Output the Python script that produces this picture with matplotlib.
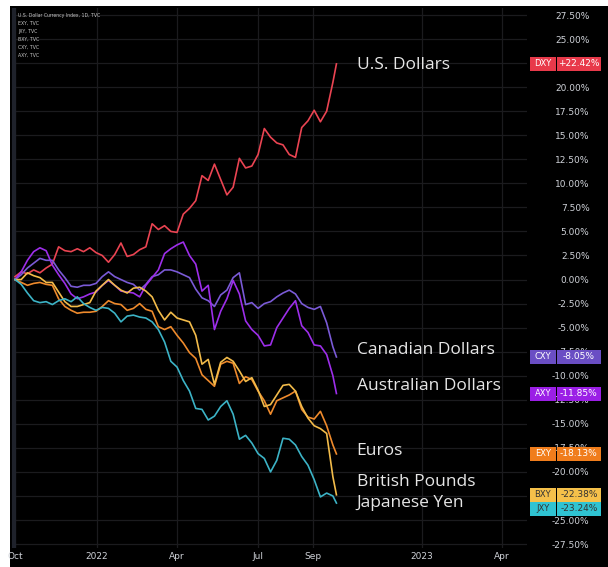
import matplotlib.pyplot as plt
import matplotlib.dates as mdates
from matplotlib.patches import Rectangle
from matplotlib.transforms import blended_transform_factory
import pandas as pd

# weekly closes (% change since Oct 1 2021), last point = Sep 27 2022
dates = list(pd.date_range("2021-10-01", periods=52, freq="7D")) + [pd.Timestamp("2022-09-27")]

dxy = [0.3, 0.8, 0.6, 1.0, 0.7, 1.2, 1.6, 3.4, 3.0, 2.9, 3.2, 2.9, 3.3, 2.8, 2.5, 1.8,
       2.6, 3.8, 2.4, 2.6, 3.1, 3.4, 5.8, 5.2, 5.6, 5.0, 4.9, 6.8, 7.4, 8.2, 10.8, 10.3,
       12.0, 10.4, 8.8, 9.6, 12.6, 11.6, 11.8, 13.0, 15.7, 14.8, 14.2, 14.0, 13.0, 12.7,
       15.8, 16.5, 17.6, 16.4, 17.5, 20.5, 22.42]
cxy = [0.0, 0.5, 1.2, 1.7, 2.2, 2.0, 2.0, 1.0, 0.2, -0.7, -0.8, -0.6, -0.6, -0.4, 0.3, 0.8,
       0.3, 0.0, -0.3, -0.5, -1.1, -0.5, 0.3, 0.5, 1.0, 1.0, 0.8, 0.5, 0.2, -1.0, -1.9, -2.2,
       -2.8, -1.6, -1.1, 0.2, 0.7, -2.6, -2.4, -3.0, -2.5, -2.3, -1.8, -1.4, -1.1, -1.5,
       -2.5, -2.9, -3.1, -2.8, -4.5, -7.0, -8.05]
axy = [0.0, 0.8, 2.0, 2.9, 3.3, 3.0, 1.5, 0.5, -0.4, -1.5, -2.0, -1.8, -1.5, -1.3, -0.6, -0.1,
       -0.6, -1.2, -1.3, -1.4, -1.8, -0.6, 0.2, 1.0, 2.7, 3.2, 3.6, 3.9, 2.5, 1.6, -1.2, -0.6,
       -5.2, -3.3, -2.0, -0.1, -1.5, -4.3, -5.2, -5.8, -6.9, -6.8, -5.0, -4.0, -3.0, -2.2,
       -4.8, -5.5, -6.8, -6.9, -7.8, -10.0, -11.85]
exy = [0.0, -0.3, -0.6, -0.4, -0.3, -0.5, -0.6, -2.0, -2.8, -3.2, -3.5, -3.4, -3.4, -3.3, -2.8, -2.2,
       -2.5, -2.6, -3.2, -3.0, -2.5, -3.1, -3.3, -4.9, -5.2, -4.9, -5.8, -6.6, -7.6, -8.2, -9.9, -10.5,
       -11.1, -8.8, -8.5, -8.7, -10.8, -10.1, -10.4, -11.6, -12.6, -14.0, -12.6, -12.3, -12.0, -11.6,
       -13.5, -14.3, -14.5, -13.7, -15.2, -17.2, -18.13]
bxy = [0.0, 0.0, 0.7, 0.4, 0.2, -0.3, -0.3, -1.3, -2.3, -2.8, -2.8, -2.6, -2.4, -1.2, -0.6, 0.0,
       -0.6, -1.1, -1.4, -0.9, -0.8, -1.2, -1.8, -3.2, -4.2, -3.4, -4.0, -4.2, -4.4, -5.8, -8.8, -8.3,
       -10.9, -8.6, -8.1, -8.5, -9.5, -10.6, -10.2, -11.5, -13.2, -13.0, -12.0, -11.0, -10.9, -11.6,
       -13.2, -14.4, -15.2, -15.5, -16.0, -20.5, -22.38]
jxy = [0.0, -0.5, -1.4, -2.2, -2.4, -2.3, -2.6, -2.2, -2.0, -2.3, -1.8, -2.5, -2.9, -3.2, -2.9, -3.0,
       -3.5, -4.4, -3.8, -3.7, -3.9, -4.0, -4.4, -5.2, -6.5, -8.5, -9.1, -10.5, -11.6, -13.4, -13.5, -14.6,
       -14.2, -13.2, -12.6, -14.0, -16.6, -16.2, -17.0, -18.1, -18.6, -20.0, -18.8, -16.5, -16.6, -17.2,
       -18.4, -19.3, -20.8, -22.6, -22.2, -22.5, -23.24]

series = [
    ("DXY", dxy, "#ea4452", "#e8394a", "#ffffff", "U.S. Dollars"),
    ("CXY", cxy, "#7a5ad6", "#6a4ec4", "#ffffff", "Canadian Dollars"),
    ("AXY", axy, "#9d2eea", "#9b1fe6", "#ffffff", "Australian Dollars"),
    ("EXY", exy, "#ee8a2c", "#f07d1c", "#ffffff", "Euros"),
    ("BXY", bxy, "#f2bb4a", "#f5c04a", "#333333", "British Pounds"),
    ("JXY", jxy, "#3cb3c6", "#2fc3d2", "#333333", "Japanese Yen"),
]
# label / tag vertical positions (in %), nudged where tags would collide
label_y = [22.3, -7.3, -11.05, -17.8, -21.05, -23.2]
tag_y = [22.42, -8.05, -11.85, -18.13, -22.38, -23.85]

yticks = [27.5 - 2.5 * i for i in range(23)]
# price-scale labels hidden behind the value tags
hidden_ticks = [22.5, -22.5]
xtick_dates = ["2021-10-01", "2022-01-01", "2022-04-01", "2022-07-01", "2022-09-01", "2023-01-01", "2023-04-01"]
xtick_labels = ["Oct", "2022", "Apr", "Jul", "Sep", "2023", "Apr"]
legend_lines = ["U.S. Dollar Currency Index, 1D, TVC", "EXY, TVC", "JXY, TVC", "BXY, TVC", "CXY, TVC", "AXY, TVC"]

W, H = 608, 567
fig = plt.figure(figsize=(W / 100, H / 100), dpi=100, facecolor="white")
fig.patches.append(Rectangle((10 / W, 0), 1 - 10 / W, 1 - 6 / H, transform=fig.transFigure,
                             facecolor="black", edgecolor="none", zorder=-10))

ax = fig.add_axes([14 / W, 1 - 548 / H, (527 - 14) / W, (548 - 8) / H], facecolor="black")
ax.set_ylim(-27.91, 28.23)
x0 = mdates.date2num(pd.Timestamp("2021-10-01"))
ax.set_xlim(x0 - 1.1, x0 + 575)

for s in ["top", "right", "bottom"]:
    ax.spines[s].set_visible(False)
ax.spines["left"].set_color("#1f222b")
ax.spines["left"].set_linewidth(3)
ax.spines["left"].set_capstyle("butt")

ax.set_yticks(yticks)
ax.set_yticklabels(["" if v in hidden_ticks else f"{v:.2f}%" for v in yticks])
ax.yaxis.tick_right()
ax.tick_params(axis="y", length=0, pad=45, labelsize=6.5, labelcolor="#cfd2d8")
for lab in ax.get_yticklabels():
    lab.set_horizontalalignment("right")

ax.set_xticks([mdates.date2num(pd.Timestamp(d)) for d in xtick_dates])
ax.set_xticklabels(xtick_labels)
ax.tick_params(axis="x", length=0, pad=3, labelsize=6.5, labelcolor="#cfd2d8")

ax.grid(True, color="#1b1b1e", linewidth=0.9)
ax.set_axisbelow(True)

trans = blended_transform_factory(ax.transAxes, ax.transData)
box_h = 14 / 9.62
for (name, vals, lc, tc, txtc, label), ly, ty in zip(series, label_y, tag_y):
    ax.plot(dates, vals, color=lc, linewidth=1.2, zorder=3)
    ax.text(0.668, ly, label, transform=trans, color="#e6e6e6", fontsize=12.5,
            family="Open Sans", va="center", ha="left", zorder=4)
    ax.add_patch(Rectangle((1.006, ty - box_h / 2), 0.05, box_h, transform=trans,
                           facecolor=tc, edgecolor="none", clip_on=False, zorder=5))
    ax.add_patch(Rectangle((1.058, ty - box_h / 2), 0.087, box_h, transform=trans,
                           facecolor=tc, edgecolor="none", clip_on=False, zorder=5))
    ax.text(1.031, ty, name, transform=trans, color=txtc, fontsize=6, ha="center",
            va="center", clip_on=False, zorder=6)
    ax.text(1.101, ty, f"{vals[-1]:+.2f}%", transform=trans, color=txtc, fontsize=6.5,
            ha="center", va="center", clip_on=False, zorder=6)

for i, t in enumerate(legend_lines):
    fig.text(18 / W, 1 - (15 + 8 * i) / H, t, color="#c8c8c8", fontsize=3.3,
             va="center", ha="left")

fig.savefig("out.png", dpi=100, facecolor=fig.get_facecolor())
